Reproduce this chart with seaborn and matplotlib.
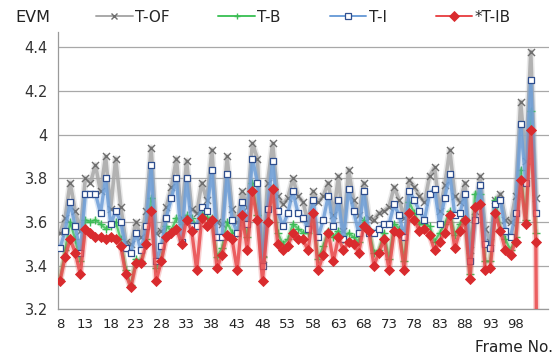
import matplotlib
matplotlib.use("Agg")
import matplotlib.pyplot as plt
import matplotlib.patheffects as pe
import seaborn as sns
from matplotlib.lines import Line2D

# Frame numbers on the category axis
frames = list(range(8, 103))
ib_frames = list(range(8, 104))
x_labels = list(range(8, 99, 5))
y_ticks = [3.2, 3.4, 3.6, 3.8, 4.0, 4.2, 4.4]

# EVM per frame for each scheme
t_of = [3.55, 3.62, 3.78, 3.65, 3.56, 3.80, 3.78, 3.86, 3.74, 3.90, 3.66, 3.89, 3.67, 3.51, 3.50,
        3.60, 3.53, 3.65, 3.94, 3.55, 3.56, 3.67, 3.76, 3.89, 3.62, 3.88, 3.66, 3.64, 3.78, 3.70,
        3.93, 3.60, 3.59, 3.90, 3.66, 3.60, 3.74, 3.67, 3.96, 3.89, 3.43, 3.78, 3.96, 3.72, 3.68, 3.71, 3.80,
        3.72, 3.69, 3.60, 3.74, 3.69, 3.72, 3.78, 3.63, 3.81, 3.56, 3.84, 3.70, 3.63, 3.78, 3.62,
        3.61, 3.64, 3.65, 3.67, 3.76, 3.70, 3.62, 3.79, 3.76, 3.72, 3.69, 3.81, 3.85, 3.65, 3.77, 3.93,
        3.72, 3.69, 3.78, 3.47, 3.65, 3.81, 3.57, 3.51, 3.70, 3.73, 3.61, 3.60, 3.72, 4.15, 3.88, 4.38, 3.71]

t_b = [3.34, 3.47, 3.60, 3.52, 3.42, 3.61, 3.60, 3.61, 3.59, 3.57, 3.58, 3.60, 3.52, 3.38, 3.31,
       3.43, 3.42, 3.52, 3.71, 3.39, 3.43, 3.58, 3.56, 3.62, 3.59, 3.63, 3.62, 3.58, 3.64, 3.62,
       3.62, 3.44, 3.48, 3.60, 3.55, 3.55, 3.63, 3.53, 3.78, 3.63, 3.44, 3.61, 3.76, 3.55, 3.50, 3.52, 3.59,
       3.57, 3.55, 3.55, 3.63, 3.43, 3.49, 3.56, 3.53, 3.56, 3.52, 3.55, 3.53, 3.51, 3.61, 3.57,
       3.46, 3.47, 3.55, 3.43, 3.59, 3.57, 3.42, 3.69, 3.64, 3.59, 3.59, 3.58, 3.51, 3.55, 3.59, 3.65,
       3.54, 3.59, 3.62, 3.36, 3.73, 3.73, 3.42, 3.42, 3.70, 3.57, 3.52, 3.47, 3.53, 3.84, 3.61, 4.11, 3.55]

t_i = [3.48, 3.56, 3.69, 3.58, 3.46, 3.73, 3.73, 3.73, 3.64, 3.80, 3.59, 3.65, 3.60, 3.48, 3.46,
       3.55, 3.47, 3.58, 3.86, 3.42, 3.49, 3.62, 3.71, 3.80, 3.51, 3.80, 3.58, 3.58, 3.67, 3.65,
       3.84, 3.53, 3.53, 3.82, 3.61, 3.55, 3.69, 3.59, 3.89, 3.78, 3.40, 3.66, 3.88, 3.65, 3.58, 3.64, 3.74,
       3.64, 3.62, 3.57, 3.70, 3.53, 3.61, 3.72, 3.58, 3.70, 3.52, 3.75, 3.65, 3.55, 3.74, 3.55,
       3.55, 3.57, 3.59, 3.59, 3.68, 3.63, 3.53, 3.74, 3.70, 3.65, 3.61, 3.73, 3.75, 3.59, 3.71, 3.82,
       3.63, 3.64, 3.73, 3.42, 3.61, 3.77, 3.50, 3.48, 3.68, 3.70, 3.56, 3.53, 3.64, 4.05, 3.78, 4.25, 3.64]

t_ib = [3.33, 3.44, 3.52, 3.46, 3.36, 3.57, 3.55, 3.53, 3.53, 3.52, 3.53, 3.52, 3.49, 3.36, 3.30,
        3.41, 3.41, 3.50, 3.65, 3.33, 3.42, 3.53, 3.55, 3.57, 3.50, 3.61, 3.56, 3.38, 3.62, 3.58,
        3.61, 3.39, 3.45, 3.54, 3.52, 3.38, 3.63, 3.47, 3.74, 3.61, 3.33, 3.60, 3.75, 3.50, 3.47, 3.49, 3.55,
        3.52, 3.52, 3.47, 3.64, 3.38, 3.45, 3.55, 3.42, 3.53, 3.47, 3.51, 3.50, 3.46, 3.58, 3.56,
        3.40, 3.46, 3.52, 3.38, 3.56, 3.55, 3.38, 3.64, 3.61, 3.56, 3.57, 3.54, 3.47, 3.51, 3.55, 3.63,
        3.48, 3.56, 3.61, 3.34, 3.67, 3.68, 3.38, 3.39, 3.64, 3.56, 3.47, 3.45, 3.51, 3.79, 3.59, 4.02, 3.51,
        0.0]

sns.set_theme(style="white")
plt.rcParams["font.family"] = ["DejaVu Sans"]

W, H = 558, 361
fig = plt.figure(figsize=(W / 100, H / 100), dpi=100)
left, right, top, bottom = 57.5, 548.5, 32.0, 309.3
ax = fig.add_axes([left / W, 1 - bottom / H, (right - left) / W, (bottom - top) / H])

# name, x, y, line colour, line width, marker, marker size, face, edge, edge width, z
styles = [
    ("T-OF", frames, t_of, "#a9a9a9", 2.6, "x", 26, "#6e6e6e", "#6e6e6e", 1.0, 2),
    ("T-B", frames, t_b, "#45c45e", 1.6, "+", 30, "#3dbb55", "#3dbb55", 1.0, 3),
    ("T-I", frames, t_i, "#6f9fd8", 2.4, "s", 14, "white", "#2f4f8f", 0.9, 4),
    ("*T-IB", ib_frames, t_ib, "#e94a4c", 2.4, "D", 26, "#d92b2e", "#d92b2e", 0.6, 5),
]

handles = []
for name, xs, ys, lc, lw, mk, ms, fc, ec, mew, z in styles:
    sns.lineplot(x=xs, y=ys, ax=ax, color=lc, linewidth=lw, errorbar=None,
                 legend=False, zorder=z)
    line = ax.lines[-1]
    line.set_alpha(0.85)
    line.set_path_effects([pe.Stroke(linewidth=lw + 2.2, foreground=lc, alpha=0.25), pe.Normal()])
    if mk in ("x", "+"):
        sns.scatterplot(x=xs, y=ys, ax=ax, marker=mk, s=ms, color=ec, linewidth=mew,
                        legend=False, zorder=z + 0.5)
    else:
        sns.scatterplot(x=xs, y=ys, ax=ax, marker=mk, s=ms, facecolor=fc, edgecolor=ec,
                        linewidth=mew, legend=False, zorder=z + 0.5)
    handles.append(Line2D([0], [0], color=lc, lw=1.4, marker=mk,
                          markersize=5 if mk != "s" else 4,
                          markerfacecolor=fc, markeredgecolor=ec, markeredgewidth=mew))

ax.set_xlim(7.5, 104.5)
ax.set_ylim(3.2, 4.47)

ax.set_yticks(y_ticks)
ax.set_yticklabels([f"{v:g}" for v in y_ticks], fontsize=10.5, color="#333333")
ax.set_xticks(x_labels)
ax.set_xticklabels([str(v) for v in x_labels], fontsize=9.5, color="#222222")
ax.set_xticks([v + 0.5 for v in range(7, 105)], minor=True)
ax.tick_params(axis="x", which="major", length=0, pad=6)
ax.tick_params(axis="x", which="minor", length=4, color="#9a9a9a", width=0.8, direction="out")
ax.tick_params(axis="y", which="major", length=4, color="#9a9a9a", width=0.8, direction="out", pad=3)
ax.set_xlabel("")
ax.set_ylabel("")

ax.grid(axis="y", color="#a8a8a8", linewidth=0.9)
ax.set_axisbelow(True)
for side in ("top", "right"):
    ax.spines[side].set_visible(False)
for side in ("left", "bottom"):
    ax.spines[side].set_color("#9a9a9a")
    ax.spines[side].set_linewidth(0.9)

fig.text(15 / W, 1 - 18 / H, "EVM", fontsize=11.5, va="center", ha="left", color="#222222")
fig.text(553 / W, 1 - 347 / H, "Frame No.", fontsize=11, va="center", ha="right", color="#222222")

fig.legend(handles, [s[0] for s in styles], loc="center left",
           bbox_to_anchor=(96 / W, 1 - 17 / H), ncol=4, frameon=False,
           fontsize=11, handlelength=2.4, handletextpad=0.15, columnspacing=3.2,
           borderaxespad=0, borderpad=0)

fig.savefig("out.png", dpi=100)
